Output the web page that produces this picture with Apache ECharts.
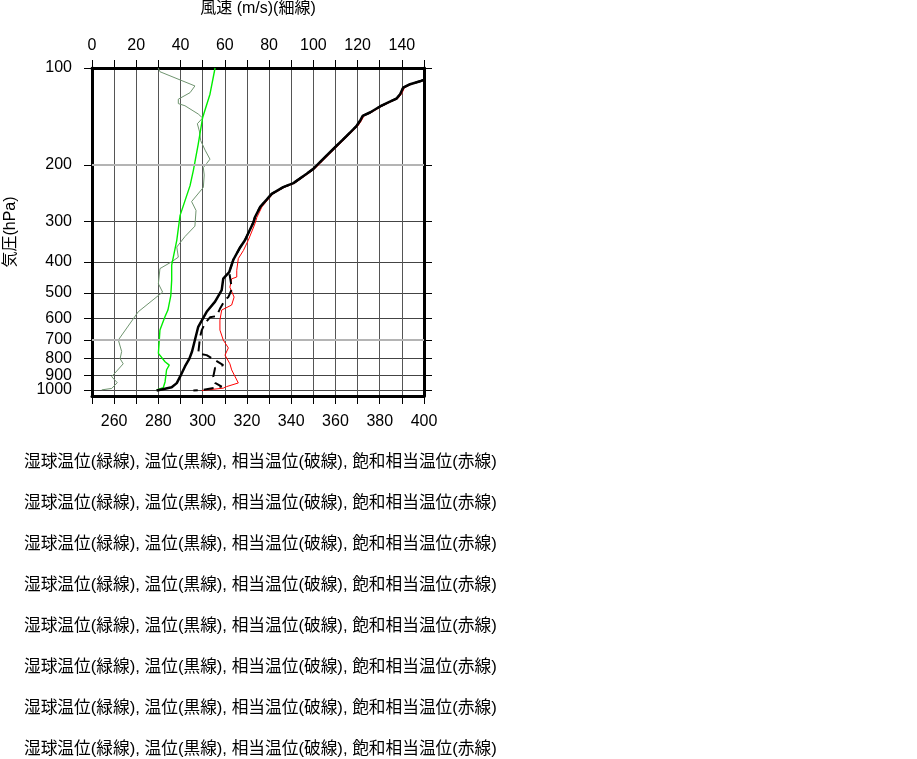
<!DOCTYPE html>
<html><head><meta charset="utf-8">
<script src="https://cdn.jsdelivr.net/npm/echarts@6/dist/echarts.min.js"></script>
<style>html,body{margin:0;padding:0;background:#fff}#c{width:917px;height:759px}</style>
</head><body><div id="c"></div>
<script>
const pressureTicks = [100,200,300,400,500,600,700,800,900,1000];
const tempTicksLabelled = [260,280,300,320,340,360,380,400];
const windTicksLabelled = [0,20,40,60,80,100,120,140];

const windP = [100,102.7,113.7,119.3,125,129,131,139,143,149,157,168,180,192,198,204,215,235,260,277,310,334,360,387,400,420,468,497,572,700,760,800,830,910,950,990,1000];
const windV = [29.9,30.7,46.5,44.3,39.0,39.0,42.0,48.0,50.0,47.6,48.5,49.1,51.1,53.3,51.8,50.3,50.7,50.3,45.0,47.0,46.5,42.0,38.3,39.0,36.0,30.7,30.0,31.9,20.9,11.9,13.4,12.7,14.1,8.9,11.4,8.9,4.4];

const greenP = [100,120.6,142.5,172.3,208,232,287,343,410,456,510,565,592,652,770,818,838,866,945,985,1000];
const greenT = [305.6,303.3,300.0,298.0,295.8,294.3,289.8,288.3,286.0,286.0,285.6,284.3,283.0,280.7,280.0,283.0,284.9,283.7,283.0,282.2,279.2];

const blackP = [108.5,109.7,112.3,115.1,120.6,124.4,127.2,131.7,137.5,140.8,145.9,151.2,162.4,178.5,196.2,205.8,213,227.9,234.6,246,256,270,291,302,343,361,395,431,451,490,532,572,637,700,760,800,846,910,953,982,997,1005];
const blackT = [400.5,398.6,393.7,390.6,389.2,387.6,384.6,380.1,375.6,372.3,371.1,369.6,365.1,359.0,353.0,350.0,347.0,341.0,336.4,331.2,329.0,326.0,323.6,322.9,319.1,316.9,313.8,312.0,309.3,308.6,305.6,301.8,298.0,296.5,295.2,294.0,292.0,289.8,288.3,286.0,281.5,279.2];

const redP = [108.5,109.7,112.3,115.1,120.6,124.4,127.2,131.7,137.5,140.8,145.9,151.2,162.4,178.5,196.2,205.8,213,227.9,234.6,246,256,270,291,305,343,369,391,425,446,452,480,515,545,565,607,652,700,741,780,830,867,952,977,988,1005];
const redT = [401.0,399.2,394.3,391.2,389.8,388.2,385.2,380.7,376.2,372.9,371.7,370.2,365.7,359.6,353.6,350.6,347.6,341.6,337.0,331.8,329.6,326.8,324.5,323.6,320.6,318.4,316.1,315.4,315.4,313.1,312.3,314.2,313.1,308.6,307.8,307.8,309.3,311.6,310.1,312.3,313.1,316.1,310.8,309.3,299.6];

const dashP = [108.5,109.7,112.3,115.1,120.6,124.4,127.2,131.7,137.5,140.8,145.9,151.2,162.4,178.5,196.2,205.8,213,227.9,234.6,246,256,270,291,302,343,361,395,431,486,515,526,560,590,595,620,652,686,771,780,838,855,910,952,977,1000,1005];
const dashT = [400.5,398.6,393.7,390.6,389.2,387.6,384.6,380.1,375.6,372.3,371.1,369.6,365.1,359.0,353.0,350.0,347.0,341.0,336.4,331.2,329.0,326.0,323.6,322.9,319.1,316.9,313.8,312.0,313.2,311.6,310.1,307.8,306.3,303.3,301.1,299.6,298.8,298.0,301.8,309.3,305.6,304.8,305.6,308.6,300.3,295.8];

const legendText = '湿球温位(緑線), 温位(黒線), 相当温位(破線), 飽和相当温位(赤線)';
const legendRows = 8;

const FONT = "'Liberation Sans', 'Noto Sans CJK JP', sans-serif";
const pair = (xs, ps) => xs.map((v, i) => [v, ps[i]]);

const chart = echarts.init(document.getElementById('c'), null, {renderer: 'canvas'});
const graphics = [];
for (let i = 0; i < legendRows; i++) {
  graphics.push({type: 'text', left: 24, top: 454 + i * 41,
    style: {text: legendText, font: "16.7px " + FONT, fill: '#000'}});
}
const yCommon = {
  type: 'log', logBase: 10, min: 100, max: 1045, inverse: true,
  axisLine: {show: true, lineStyle: {color: '#000', width: 3}},
  axisTick: {show: true, inside: false, length: 8, customValues: pressureTicks, lineStyle: {color: '#000', width: 1}},
  minorTick: {show: false}, minorSplitLine: {show: false}
};
const yLabelStyle = {show: true, fontSize: 16, lineHeight: 12, color: '#000', margin: 20, fontFamily: FONT,
  showMinLabel: true, showMaxLabel: true, hideOverlap: false, formatter: v => String(Math.round(v))};
chart.setOption({
  animation: false,
  textStyle: {fontFamily: FONT},
  grid: {left: 92, top: 67, width: 332, height: 329, show: false},
  graphic: graphics,
  xAxis: [
    {type: 'value', position: 'bottom', min: 250, max: 400, interval: 10,
     axisLine: {show: true, onZero: false, lineStyle: {color: '#000', width: 3}},
     axisTick: {show: true, inside: false, length: 8, lineStyle: {color: '#000'}},
     axisLabel: {fontSize: 16, color: '#000', margin: 18, fontFamily: FONT, showMaxLabel: true, hideOverlap: false,
       formatter: v => tempTicksLabelled.includes(v) ? String(v) : ''},
     splitLine: {show: true, lineStyle: {color: '#555', width: 1}}},
    {type: 'value', position: 'top', min: 0, max: 150, interval: 10,
     name: '風速 (m/s)(細線)', nameLocation: 'middle', nameGap: 51,
     nameTextStyle: {fontSize: 16, color: '#000', fontFamily: FONT},
     axisLine: {show: true, onZero: false, lineStyle: {color: '#000', width: 3}},
     axisTick: {show: true, inside: false, length: 8, lineStyle: {color: '#000'}},
     axisLabel: {fontSize: 16, color: '#000', margin: 14, fontFamily: FONT, showMinLabel: true,
       formatter: v => windTicksLabelled.includes(v) ? String(v) : ''},
     splitLine: {show: false}}
  ],
  yAxis: [
    Object.assign({}, yCommon, {position: 'left',
      name: '気圧(hPa)', nameLocation: 'middle', nameGap: 73,
      nameTextStyle: {fontSize: 16, color: '#000', fontFamily: FONT},
      axisLabel: Object.assign({}, yLabelStyle, {customValues: pressureTicks.slice(0, 9)}),
      splitLine: {show: true, lineStyle: {color: ['#444','#b4b4b4','#444','#444','#444','#444','#b4b4b4','#444','#444','#444'], width: 1}}}),
    Object.assign({}, yCommon, {position: 'right',
      axisLabel: {show: false, customValues: pressureTicks},
      splitLine: {show: false}}),
    Object.assign({}, yCommon, {position: 'left', offset: 0,
      axisLine: {show: false}, axisTick: {show: false},
      axisLabel: Object.assign({}, yLabelStyle, {customValues: pressureTicks.slice(9)}),
      splitLine: {show: false}})
  ],
  series: [
    {type: 'line', name: 'grid200700', xAxisIndex: 0, yAxisIndex: 0, data: [], z: 1, silent: true,
     markLine: {symbol: 'none', silent: true, label: {show: false},
       lineStyle: {color: '#b4b4b4', width: 2, type: 'solid'},
       data: [{yAxis: pressureTicks[1]}, {yAxis: pressureTicks[6]}]}},
    {type: 'line', name: 'wind', xAxisIndex: 1, yAxisIndex: 0, data: pair(windV, windP),
     showSymbol: false, symbol: 'none', lineStyle: {color: '#6f946f', width: 1}, z: 3},
    {type: 'line', name: 'wetbulb', xAxisIndex: 0, yAxisIndex: 0, data: pair(greenT, greenP),
     showSymbol: false, symbol: 'none', lineStyle: {color: '#00ee00', width: 1.4}, z: 4},
    {type: 'line', name: 'saturated', xAxisIndex: 0, yAxisIndex: 0, data: pair(redT, redP),
     showSymbol: false, symbol: 'none', lineStyle: {color: '#ff0000', width: 1}, z: 5},
    {type: 'line', name: 'equivalent', xAxisIndex: 0, yAxisIndex: 0, data: pair(dashT, dashP),
     showSymbol: false, symbol: 'none', lineStyle: {color: '#000', width: 2, type: [10, 6]}, z: 6},
    {type: 'line', name: 'potential', xAxisIndex: 0, yAxisIndex: 0, data: pair(blackT, blackP),
     showSymbol: false, symbol: 'none', lineStyle: {color: '#000', width: 2.5}, z: 7}
  ]
});
</script></body></html>
